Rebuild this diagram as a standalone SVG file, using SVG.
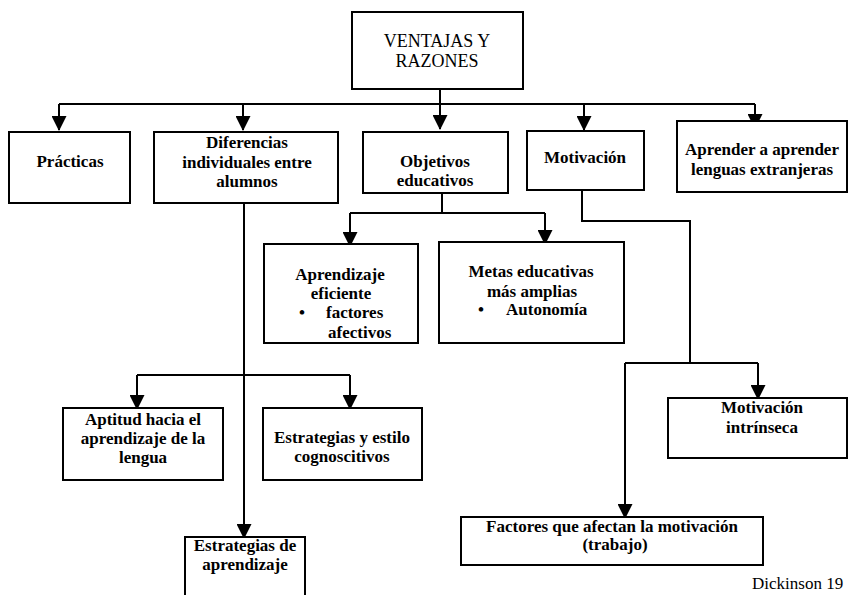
<svg xmlns="http://www.w3.org/2000/svg" width="849" height="595" viewBox="0 0 849 595">
  <style>
    .box { fill: #ffffff; stroke: #000000; stroke-width: 2; }
    .wire { fill: none; stroke: #000000; stroke-width: 2; }
    .t { font-family: "Liberation Serif", "Times New Roman", serif; font-size: 17px; font-weight: bold; fill: #000000; }
    .c { text-anchor: middle; }
    .title { font-family: "Liberation Serif", "Times New Roman", serif; font-size: 18px; fill: #000000; text-anchor: middle; }
    .credit { font-family: "Liberation Serif", "Times New Roman", serif; font-size: 17px; fill: #000000; }
  </style>
  <defs>
    <marker id="arrow" markerUnits="userSpaceOnUse" markerWidth="15" markerHeight="15" viewBox="0 0 15 15" refX="14" refY="7.5" orient="auto">
      <path d="M0,0 L15,7.5 L0,15 Z" fill="#000000"/>
    </marker>
  </defs>

  <rect width="849" height="595" fill="#ffffff"/>

  <!-- connectors -->
  <g id="connectors">
    <path class="wire" d="M440 89 V104 M59 104 H755"/>
    <path class="wire" d="M59 104 V130" marker-end="url(#arrow)"/>
    <path class="wire" d="M243 104 V130" marker-end="url(#arrow)"/>
    <path class="wire" d="M440 104 V129" marker-end="url(#arrow)"/>
    <path class="wire" d="M584 104 V130" marker-end="url(#arrow)"/>
    <path class="wire" d="M755 104 V128" marker-end="url(#arrow)"/>

    <path class="wire" d="M442 193 V213 M350 213 H545"/>
    <path class="wire" d="M350 213 V246" marker-end="url(#arrow)"/>
    <path class="wire" d="M545 213 V244" marker-end="url(#arrow)"/>

    <path class="wire" d="M244 203 V538" marker-end="url(#arrow)"/>
    <path class="wire" d="M137 375 H350"/>
    <path class="wire" d="M137 375 V409" marker-end="url(#arrow)"/>
    <path class="wire" d="M350 375 V409" marker-end="url(#arrow)"/>

    <path class="wire" d="M582 190 V221 H690 V363 M625 363 H758"/>
    <path class="wire" d="M625 363 V518" marker-end="url(#arrow)"/>
    <path class="wire" d="M758 363 V399" marker-end="url(#arrow)"/>
  </g>

  <g id="ventajas">
    <rect class="box" x="352" y="12" width="171" height="77"/>
    <text class="title" x="437" y="47">VENTAJAS Y</text>
    <text class="title" x="437" y="67">RAZONES</text>
  </g>

  <g id="practicas">
    <rect class="box" x="9" y="132" width="121" height="71"/>
    <text class="t c" x="70" y="167">Prácticas</text>
  </g>

  <g id="diferencias">
    <rect class="box" x="154" y="132" width="184" height="71"/>
    <text class="t c" x="247" y="148">Diferencias</text>
    <text class="t c" x="247" y="168">individuales entre</text>
    <text class="t c" x="247" y="187">alumnos</text>
  </g>

  <g id="objetivos">
    <rect class="box" x="363" y="132" width="145" height="61"/>
    <text class="t c" x="435" y="167">Objetivos</text>
    <text class="t c" x="435" y="186">educativos</text>
  </g>

  <g id="motivacion">
    <rect class="box" x="527" y="131" width="117" height="59"/>
    <text class="t c" x="585" y="163">Motivación</text>
  </g>

  <g id="aprender">
    <rect class="box" x="677" y="121" width="170" height="71"/>
    <text class="t c" x="762" y="155">Aprender a aprender</text>
    <text class="t c" x="762" y="175">lenguas extranjeras</text>
  </g>

  <g id="aprendizaje-eficiente">
    <rect class="box" x="264" y="244" width="154" height="99"/>
    <text class="t c" x="340" y="280">Aprendizaje</text>
    <text class="t c" x="341" y="299">eficiente</text>
    <text class="t" x="299" y="318">•</text>
    <text class="t" x="326" y="318">factores</text>
    <text class="t" x="328" y="338">afectivos</text>
  </g>

  <g id="metas">
    <rect class="box" x="439" y="242" width="185" height="101"/>
    <text class="t c" x="531" y="277">Metas educativas</text>
    <text class="t c" x="532" y="297">más amplias</text>
    <text class="t" x="478" y="315">•</text>
    <text class="t" x="506" y="315">Autonomía</text>
  </g>

  <g id="aptitud">
    <rect class="box" x="63" y="408" width="160" height="72"/>
    <text class="t c" x="143" y="425">Aptitud hacia el</text>
    <text class="t c" x="143" y="444">aprendizaje de la</text>
    <text class="t c" x="143" y="463">lengua</text>
  </g>

  <g id="estrategias-estilo">
    <rect class="box" x="263" y="408" width="159" height="72"/>
    <text class="t c" x="342" y="443">Estrategias y estilo</text>
    <text class="t c" x="342" y="462">cognoscitivos</text>
  </g>

  <g id="motivacion-intrinseca">
    <rect class="box" x="668" y="398" width="179" height="60"/>
    <text class="t c" x="762" y="413">Motivación</text>
    <text class="t c" x="762" y="433">intrínseca</text>
  </g>

  <g id="factores">
    <rect class="box" x="461" y="517" width="302" height="48"/>
    <text class="t c" x="612" y="532">Factores que afectan la motivación</text>
    <text class="t c" x="615" y="550">(trabajo)</text>
  </g>

  <g id="estrategias-aprendizaje">
    <rect class="box" x="185" y="537" width="120" height="70"/>
    <text class="t c" x="245" y="551">Estrategias de</text>
    <text class="t c" x="245" y="570">aprendizaje</text>
  </g>

  <text class="credit" x="752" y="589">Dickinson 19</text>
</svg>
